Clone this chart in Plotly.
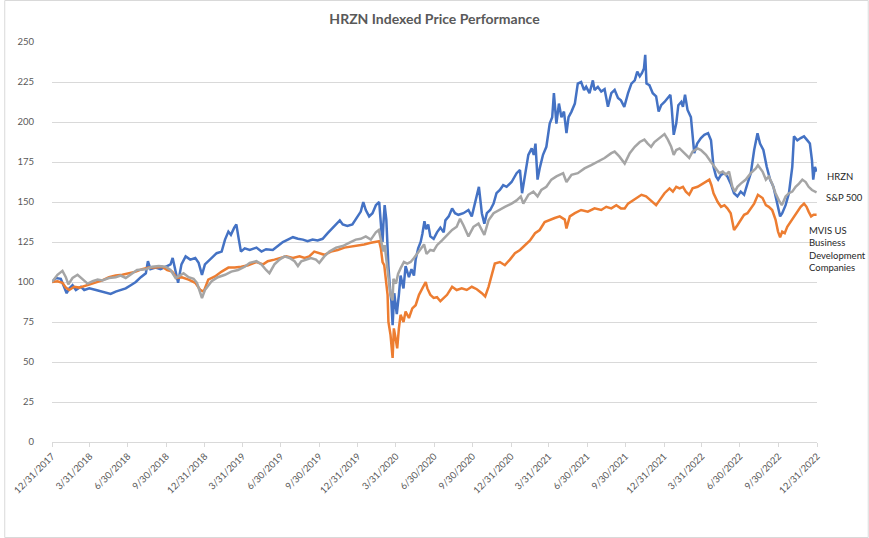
import plotly.graph_objects as go

# Indexed price series (12/31/2017 = 100)
hrzn_points = [
    ("2017-12-31", 100), ("2018-01-09", 102.5), ("2018-01-21", 102), ("2018-01-29", 97),
    ("2018-02-04", 93), ("2018-02-10", 96), ("2018-02-18", 98), ("2018-02-26", 95),
    ("2018-03-10", 97), ("2018-03-18", 95), ("2018-03-30", 96), ("2018-04-15", 95),
    ("2018-04-27", 94), ("2018-05-09", 93), ("2018-05-20", 92.5), ("2018-06-01", 94),
    ("2018-06-13", 95), ("2018-06-25", 96), ("2018-07-07", 98), ("2018-07-19", 100),
    ("2018-07-31", 103), ("2018-08-12", 105.5), ("2018-08-17", 113), ("2018-08-23", 108),
    ("2018-09-04", 109), ("2018-09-16", 108), ("2018-09-28", 109.5), ("2018-10-10", 111),
    ("2018-10-15", 115), ("2018-10-22", 105.5), ("2018-10-28", 99.5), ("2018-11-05", 111),
    ("2018-11-15", 116), ("2018-11-26", 114), ("2018-12-08", 115), ("2018-12-16", 112),
    ("2018-12-24", 104.5), ("2018-12-31", 111), ("2019-01-16", 115), ("2019-01-28", 118),
    ("2019-02-09", 119), ("2019-02-17", 126.5), ("2019-02-25", 131.5), ("2019-03-03", 129.5),
    ("2019-03-11", 134), ("2019-03-16", 136), ("2019-03-22", 126.5), ("2019-03-27", 119),
    ("2019-04-05", 121), ("2019-04-17", 120), ("2019-05-03", 121.5), ("2019-05-15", 119),
    ("2019-05-26", 120.5), ("2019-06-11", 120), ("2019-06-23", 122.5), ("2019-07-05", 125),
    ("2019-07-17", 126.5), ("2019-07-29", 128), ("2019-08-10", 127), ("2019-08-22", 126.5),
    ("2019-09-02", 125.5), ("2019-09-14", 126.5), ("2019-09-26", 126), ("2019-10-08", 127),
    ("2019-10-20", 130.5), ("2019-11-01", 134), ("2019-11-13", 137), ("2019-11-18", 138.5),
    ("2019-11-25", 136), ("2019-12-06", 135), ("2019-12-18", 136), ("2019-12-30", 141),
    ("2020-01-07", 144), ("2020-01-13", 150), ("2020-01-19", 145), ("2020-01-27", 141),
    ("2020-02-04", 143), ("2020-02-12", 148), ("2020-02-20", 150), ("2020-02-25", 133),
    ("2020-02-28", 125), ("2020-03-01", 136), ("2020-03-04", 148), ("2020-03-08", 139),
    ("2020-03-11", 120), ("2020-03-13", 110), ("2020-03-17", 95), ("2020-03-20", 88),
    ("2020-03-23", 73), ("2020-03-25", 82), ("2020-03-27", 93), ("2020-03-31", 84),
    ("2020-04-02", 80), ("2020-04-07", 92), ("2020-04-11", 104), ("2020-04-18", 96),
    ("2020-04-23", 110), ("2020-05-01", 103), ("2020-05-07", 108), ("2020-05-13", 104),
    ("2020-05-17", 114), ("2020-05-23", 121), ("2020-05-29", 125), ("2020-06-02", 130),
    ("2020-06-07", 138), ("2020-06-11", 133), ("2020-06-16", 136), ("2020-06-21", 128.5),
    ("2020-06-29", 127), ("2020-07-07", 131), ("2020-07-15", 134), ("2020-07-23", 131),
    ("2020-07-27", 138.5), ("2020-08-04", 141), ("2020-08-12", 146), ("2020-08-19", 143),
    ("2020-08-27", 142), ("2020-09-08", 143), ("2020-09-20", 145), ("2020-09-28", 141),
    ("2020-10-06", 149), ("2020-10-15", 159.5), ("2020-10-22", 143), ("2020-10-28", 136.5),
    ("2020-11-03", 143), ("2020-11-11", 145), ("2020-11-19", 149), ("2020-11-26", 155.5),
    ("2020-12-04", 157.5), ("2020-12-12", 160.5), ("2020-12-20", 159.5), ("2021-01-01", 162.5),
    ("2021-01-13", 168), ("2021-01-21", 170), ("2021-01-26", 155.5), ("2021-02-02", 168),
    ("2021-02-10", 179.5), ("2021-02-18", 183.5), ("2021-02-23", 179.5), ("2021-02-27", 186.5),
    ("2021-03-04", 164), ("2021-03-09", 171), ("2021-03-17", 179.5), ("2021-03-25", 184.5),
    ("2021-04-02", 199), ("2021-04-08", 203), ("2021-04-12", 218), ("2021-04-18", 199),
    ("2021-04-24", 211.5), ("2021-04-30", 203), ("2021-05-06", 206.5), ("2021-05-12", 193),
    ("2021-05-17", 203), ("2021-05-24", 206.5), ("2021-06-01", 211.5), ("2021-06-08", 224),
    ("2021-06-16", 225), ("2021-06-23", 220), ("2021-06-28", 222), ("2021-07-06", 218),
    ("2021-07-14", 226), ("2021-07-18", 220), ("2021-07-26", 222), ("2021-08-03", 219),
    ("2021-08-11", 220.5), ("2021-08-19", 209.5), ("2021-08-27", 218), ("2021-09-04", 220),
    ("2021-09-12", 215), ("2021-09-19", 213.5), ("2021-09-27", 209.5), ("2021-10-06", 218),
    ("2021-10-14", 224), ("2021-10-22", 226), ("2021-10-28", 231.5), ("2021-11-03", 228.5),
    ("2021-11-08", 230.5), ("2021-11-13", 233.5), ("2021-11-16", 242), ("2021-11-19", 224),
    ("2021-11-26", 223), ("2021-12-04", 218), ("2021-12-12", 216), ("2021-12-18", 206.5),
    ("2021-12-24", 210.5), ("2022-01-01", 212.5), ("2022-01-09", 215), ("2022-01-15", 217),
    ("2022-01-18", 209.5), ("2022-01-23", 192), ("2022-01-29", 199), ("2022-02-03", 210.5),
    ("2022-02-10", 212.5), ("2022-02-14", 209.5), ("2022-02-19", 217), ("2022-02-25", 207.5),
    ("2022-03-05", 203), ("2022-03-09", 193), ("2022-03-13", 180.5), ("2022-03-20", 186.5),
    ("2022-03-29", 190), ("2022-04-06", 192), ("2022-04-15", 193), ("2022-04-22", 188.5),
    ("2022-04-28", 172), ("2022-05-04", 166), ("2022-05-09", 164), ("2022-05-16", 167),
    ("2022-05-24", 168), ("2022-05-31", 166), ("2022-06-08", 161.5), ("2022-06-16", 155.5),
    ("2022-06-24", 153.5), ("2022-07-02", 156.5), ("2022-07-10", 154.5), ("2022-07-18", 161.5),
    ("2022-07-26", 168), ("2022-08-03", 182.5), ("2022-08-11", 193), ("2022-08-17", 186.5),
    ("2022-08-25", 182.5), ("2022-09-02", 172), ("2022-09-10", 164), ("2022-09-18", 159.5),
    ("2022-09-23", 153.5), ("2022-09-29", 145), ("2022-10-04", 141), ("2022-10-09", 143),
    ("2022-10-17", 148), ("2022-10-25", 155.5), ("2022-11-02", 172), ("2022-11-06", 191),
    ("2022-11-14", 188.5), ("2022-11-22", 190), ("2022-11-30", 191), ("2022-12-08", 188.5),
    ("2022-12-14", 186.5), ("2022-12-19", 176), ("2022-12-22", 164), ("2022-12-26", 172),
    ("2022-12-30", 169),
]

sp500_points = [
    ("2017-12-31", 100), ("2018-01-13", 104.5), ("2018-01-25", 107), ("2018-02-02", 103),
    ("2018-02-08", 98.5), ("2018-02-18", 102.5), ("2018-03-02", 104.5), ("2018-03-14", 101.5),
    ("2018-03-26", 99), ("2018-04-07", 100.5), ("2018-04-19", 101.5), ("2018-04-30", 101),
    ("2018-05-16", 102.5), ("2018-06-01", 103), ("2018-06-13", 104), ("2018-06-25", 102.5),
    ("2018-07-10", 105.5), ("2018-07-22", 107.5), ("2018-08-12", 108), ("2018-08-27", 109.5),
    ("2018-09-12", 110), ("2018-09-28", 109.5), ("2018-10-10", 107.5), ("2018-10-22", 102.5),
    ("2018-10-29", 103.5), ("2018-11-10", 105.5), ("2018-11-22", 103), ("2018-12-04", 102),
    ("2018-12-12", 99.5), ("2018-12-24", 90), ("2018-12-31", 95), ("2019-01-16", 100.5),
    ("2019-01-31", 103), ("2019-02-17", 104.5), ("2019-03-04", 106.5), ("2019-03-20", 107.5),
    ("2019-04-05", 109.5), ("2019-04-17", 112), ("2019-05-03", 113), ("2019-05-15", 111),
    ("2019-05-26", 107.5), ("2019-06-03", 105.5), ("2019-06-15", 111), ("2019-06-27", 114),
    ("2019-07-09", 116), ("2019-07-21", 115), ("2019-08-02", 113), ("2019-08-10", 110),
    ("2019-08-18", 113), ("2019-08-29", 114), ("2019-09-10", 115), ("2019-09-22", 114),
    ("2019-09-30", 112), ("2019-10-12", 116), ("2019-10-24", 119), ("2019-11-09", 121.5),
    ("2019-11-25", 122.5), ("2019-12-10", 124.5), ("2019-12-26", 126.5), ("2020-01-07", 127),
    ("2020-01-19", 128.5), ("2020-01-31", 126.5), ("2020-02-12", 131), ("2020-02-19", 132.5),
    ("2020-02-25", 126), ("2020-03-01", 119), ("2020-03-04", 123), ("2020-03-09", 112.5),
    ("2020-03-12", 106.5), ("2020-03-16", 98), ("2020-03-18", 92), ("2020-03-23", 88.5),
    ("2020-03-25", 102), ("2020-03-31", 99), ("2020-04-05", 105), ("2020-04-11", 108.5),
    ("2020-04-19", 112.5), ("2020-04-27", 111.5), ("2020-05-05", 112.5), ("2020-05-13", 115),
    ("2020-05-21", 118), ("2020-05-29", 121), ("2020-06-06", 123.5), ("2020-06-12", 117.5),
    ("2020-06-21", 120), ("2020-06-29", 119.5), ("2020-07-07", 123), ("2020-07-19", 126),
    ("2020-07-31", 129.5), ("2020-08-12", 132.5), ("2020-08-23", 134.5), ("2020-08-31", 139.5),
    ("2020-09-08", 135.5), ("2020-09-20", 128.5), ("2020-10-02", 134.5), ("2020-10-14", 136.5),
    ("2020-10-28", 129.5), ("2020-11-07", 138.5), ("2020-11-19", 143), ("2020-12-01", 145),
    ("2020-12-16", 147), ("2021-01-01", 149), ("2021-01-13", 151), ("2021-01-23", 153.5),
    ("2021-01-29", 149), ("2021-02-10", 154.5), ("2021-02-22", 156.5), ("2021-03-04", 153.5),
    ("2021-03-13", 157.5), ("2021-03-25", 159.5), ("2021-04-06", 164), ("2021-04-18", 166),
    ("2021-05-04", 168), ("2021-05-12", 162.5), ("2021-05-24", 167), ("2021-06-08", 168),
    ("2021-06-24", 171), ("2021-07-10", 173), ("2021-07-26", 175), ("2021-08-11", 177.5),
    ("2021-08-27", 180.5), ("2021-09-04", 181.5), ("2021-09-15", 178.5), ("2021-09-28", 174),
    ("2021-10-10", 180.5), ("2021-10-22", 184.5), ("2021-11-03", 187.5), ("2021-11-14", 189),
    ("2021-11-22", 186.5), ("2021-11-30", 184.5), ("2021-12-08", 187.5), ("2021-12-16", 189),
    ("2021-12-24", 191), ("2022-01-01", 192.5), ("2022-01-09", 189), ("2022-01-17", 184.5),
    ("2022-01-23", 179.5), ("2022-01-29", 182.5), ("2022-02-06", 183.5), ("2022-02-14", 181.5),
    ("2022-02-21", 179.5), ("2022-03-01", 177.5), ("2022-03-09", 181.5), ("2022-03-21", 183.5),
    ("2022-03-29", 182.5), ("2022-04-10", 179.5), ("2022-04-22", 175), ("2022-05-04", 171),
    ("2022-05-12", 168), ("2022-05-20", 169), ("2022-05-27", 167), ("2022-06-04", 169),
    ("2022-06-12", 159.5), ("2022-06-18", 156.5), ("2022-06-24", 159.5), ("2022-07-02", 161.5),
    ("2022-07-14", 164), ("2022-07-26", 168), ("2022-08-07", 171), ("2022-08-12", 173),
    ("2022-08-23", 169), ("2022-08-31", 164), ("2022-09-07", 166), ("2022-09-15", 161.5),
    ("2022-09-23", 155.5), ("2022-10-01", 151), ("2022-10-08", 148), ("2022-10-17", 153.5),
    ("2022-10-25", 155.5), ("2022-11-02", 156.5), ("2022-11-10", 159.5), ("2022-11-18", 161.5),
    ("2022-11-26", 164), ("2022-12-04", 162.5), ("2022-12-11", 159.5), ("2022-12-19", 157.5),
    ("2022-12-27", 156.5), ("2022-12-30", 156),
]

mvis_points = [
    ("2017-12-31", 100), ("2018-01-13", 100.5), ("2018-01-25", 99.5), ("2018-02-02", 96.5),
    ("2018-02-10", 95), ("2018-02-22", 97), ("2018-03-06", 96.5), ("2018-03-18", 97.5),
    ("2018-03-30", 98.5), ("2018-04-15", 99.5), ("2018-04-30", 101), ("2018-05-16", 103),
    ("2018-06-01", 104), ("2018-06-17", 104.5), ("2018-07-02", 105.5), ("2018-07-19", 106.5),
    ("2018-08-03", 108), ("2018-08-19", 109), ("2018-09-04", 109), ("2018-09-20", 109.5),
    ("2018-10-02", 107.5), ("2018-10-14", 106.5), ("2018-10-25", 102.5), ("2018-11-06", 103),
    ("2018-11-22", 101.5), ("2018-12-08", 99.5), ("2018-12-20", 95), ("2018-12-28", 94),
    ("2019-01-08", 101.5), ("2019-01-24", 103.5), ("2019-02-09", 106.5), ("2019-02-25", 109),
    ("2019-03-12", 109), ("2019-03-28", 109.5), ("2019-04-13", 110.5), ("2019-04-17", 111),
    ("2019-05-03", 112.5), ("2019-05-19", 111), ("2019-05-30", 113), ("2019-06-15", 114),
    ("2019-06-27", 115), ("2019-07-13", 116), ("2019-07-29", 115), ("2019-08-14", 116),
    ("2019-08-26", 115), ("2019-09-06", 116), ("2019-09-18", 119), ("2019-09-30", 118),
    ("2019-10-12", 117), ("2019-10-28", 119), ("2019-11-13", 120), ("2019-11-29", 121.5),
    ("2019-12-14", 122), ("2019-12-30", 122.5), ("2020-01-15", 123.5), ("2020-01-31", 124.5),
    ("2020-02-12", 125), ("2020-02-20", 125.5), ("2020-02-24", 121), ("2020-02-28", 112.5),
    ("2020-03-03", 110.5), ("2020-03-06", 102.5), ("2020-03-11", 92), ("2020-03-13", 75),
    ("2020-03-18", 67), ("2020-03-23", 52.5), ("2020-03-26", 71), ("2020-03-30", 65),
    ("2020-04-03", 58.5), ("2020-04-07", 71), ("2020-04-11", 79.5), ("2020-04-18", 75),
    ("2020-04-23", 81.5), ("2020-05-01", 77.5), ("2020-05-09", 83.5), ("2020-05-17", 85.5),
    ("2020-05-25", 92), ("2020-06-02", 96), ("2020-06-10", 100), ("2020-06-14", 96),
    ("2020-06-21", 92), ("2020-06-29", 90), ("2020-07-07", 90.5), ("2020-07-15", 88),
    ("2020-07-23", 90), ("2020-07-31", 92), ("2020-08-12", 97), ("2020-08-23", 95),
    ("2020-09-04", 96), ("2020-09-16", 95), ("2020-09-28", 97), ("2020-10-10", 95.5),
    ("2020-10-22", 93), ("2020-10-30", 91), ("2020-11-07", 97), ("2020-11-15", 105.5),
    ("2020-11-22", 111.5), ("2020-12-04", 112.5), ("2020-12-16", 110.5), ("2020-12-28", 114),
    ("2021-01-09", 118), ("2021-01-21", 120), ("2021-02-02", 123), ("2021-02-14", 126),
    ("2021-02-26", 130.5), ("2021-03-09", 132.5), ("2021-03-21", 137.5), ("2021-04-02", 139),
    ("2021-04-14", 140), ("2021-04-26", 141), ("2021-05-08", 139), ("2021-05-12", 133.5),
    ("2021-05-20", 141), ("2021-06-01", 143), ("2021-06-16", 145), ("2021-07-02", 144),
    ("2021-07-18", 146), ("2021-08-03", 145), ("2021-08-15", 147), ("2021-08-27", 146),
    ("2021-09-08", 148), ("2021-09-19", 146), ("2021-09-28", 146), ("2021-10-06", 149),
    ("2021-10-18", 151), ("2021-10-30", 153.5), ("2021-11-07", 154.5), ("2021-11-18", 153.5),
    ("2021-11-30", 151), ("2021-12-12", 148), ("2021-12-20", 151), ("2022-01-01", 155.5),
    ("2022-01-13", 158.5), ("2022-01-21", 156.5), ("2022-01-29", 159.5), ("2022-02-06", 158.5),
    ("2022-02-14", 159.5), ("2022-02-21", 156.5), ("2022-03-01", 154.5), ("2022-03-09", 158.5),
    ("2022-03-21", 159.5), ("2022-04-02", 161.5), ("2022-04-10", 162.5), ("2022-04-18", 164),
    ("2022-04-23", 160.5), ("2022-04-28", 155.5), ("2022-05-08", 150), ("2022-05-16", 147),
    ("2022-05-24", 148), ("2022-05-31", 146), ("2022-06-08", 143), ("2022-06-16", 132.5),
    ("2022-06-24", 135.5), ("2022-07-02", 139), ("2022-07-10", 142), ("2022-07-18", 143),
    ("2022-07-26", 146), ("2022-08-03", 149), ("2022-08-12", 154.5), ("2022-08-23", 152.5),
    ("2022-08-31", 148), ("2022-09-07", 147), ("2022-09-15", 145), ("2022-09-23", 139),
    ("2022-09-29", 131.5), ("2022-10-04", 128), ("2022-10-09", 131.5), ("2022-10-15", 130.5),
    ("2022-10-21", 134.5), ("2022-10-29", 137.5), ("2022-11-06", 141), ("2022-11-14", 144),
    ("2022-11-22", 147), ("2022-11-30", 149), ("2022-12-06", 147), ("2022-12-11", 144),
    ("2022-12-17", 141), ("2022-12-23", 142), ("2022-12-30", 142),
]

# Quarter-end ticks on the date axis
quarter_ticks = [
    "2017-12-31", "2018-03-31", "2018-06-30", "2018-09-30", "2018-12-31",
    "2019-03-31", "2019-06-30", "2019-09-30", "2019-12-31", "2020-03-31",
    "2020-06-30", "2020-09-30", "2020-12-31", "2021-03-31", "2021-06-30",
    "2021-09-30", "2021-12-31", "2022-03-31", "2022-06-30", "2022-09-30",
    "2022-12-31",
]
quarter_labels = [
    "12/31/2017", "3/31/2018", "6/30/2018", "9/30/2018", "12/31/2018",
    "3/31/2019", "6/30/2019", "9/30/2019", "12/31/2019", "3/31/2020",
    "6/30/2020", "9/30/2020", "12/31/2020", "3/31/2021", "6/30/2021",
    "9/30/2021", "12/31/2021", "3/31/2022", "6/30/2022", "9/30/2022",
    "12/31/2022",
]

FONT = "Lato, Calibri, 'Open Sans', sans-serif"
GRID = "#D9D9D9"


# Build one line trace from a list of (date, value) points
def make_line(points, name, color):
    dates = [p[0] for p in points]
    values = [p[1] for p in points]
    return go.Scatter(x=dates, y=values, mode="lines", name=name,
                      line=dict(color=color, width=2.5))


# End-of-line series label, placed relative to the last point
def end_label(points, text, xshift, yshift):
    return dict(x=points[-1][0], y=points[-1][1], text=text, showarrow=False,
                xanchor="left", align="left", xshift=xshift, yshift=yshift,
                font=dict(family=FONT, size=9.5, color="#262626"))


fig = go.Figure()
fig.add_trace(make_line(hrzn_points, "HRZN", "#4472C4"))
fig.add_trace(make_line(mvis_points, "MVIS US Business Development Companies", "#ED7D31"))
fig.add_trace(make_line(sp500_points, "S&P 500", "#A5A5A5"))

fig.update_layout(
    width=869, height=538,
    margin=dict(l=48, r=52, t=42, b=96),
    paper_bgcolor="white", plot_bgcolor="white",
    showlegend=False,
    font=dict(family=FONT, color="#595959"),
    title=dict(text="<b>HRZN Indexed Price Performance</b>",
               x=0.5, xanchor="center", y=1 - 19 / 538, yanchor="middle",
               font=dict(family=FONT, size=14, color="#595959")),
    xaxis=dict(type="date", range=["2017-12-31", "2022-12-31"],
               tickmode="array", tickvals=quarter_ticks, ticktext=quarter_labels,
               tickangle=-45, ticks="outside", ticklen=4, tickcolor=GRID,
               showline=True, linecolor=GRID, linewidth=1, showgrid=False,
               tickfont=dict(family=FONT, size=9.5, color="#595959")),
    yaxis=dict(range=[0, 250], dtick=25, tick0=0, showgrid=True,
               gridcolor=GRID, gridwidth=1, zeroline=False, showline=False,
               ticks="", ticklabelstandoff=17,
               tickfont=dict(family=FONT, size=9.5, color="#595959")),
    annotations=[
        end_label(hrzn_points, "HRZN", 8, -5),
        end_label(sp500_points, "S&P 500", 7, -5),
        end_label(mvis_points, "MVIS US<br>Business<br>Development<br>Companies", -10, -34),
    ],
    # thin chart-area border
    shapes=[dict(type="rect", xref="paper", yref="paper",
                 x0=-47.5 / 769, x1=1 + 51.5 / 769, y0=-95.5 / 400, y1=1 + 41.5 / 400,
                 line=dict(color=GRID, width=1), fillcolor="rgba(0,0,0,0)", layer="below")],
)

# page body margin would push the 869x538 figure off the window
fig.write_html("out.html", config={"displayModeBar": False},
               post_script="document.body.style.margin='0';document.body.style.overflow='hidden';")
